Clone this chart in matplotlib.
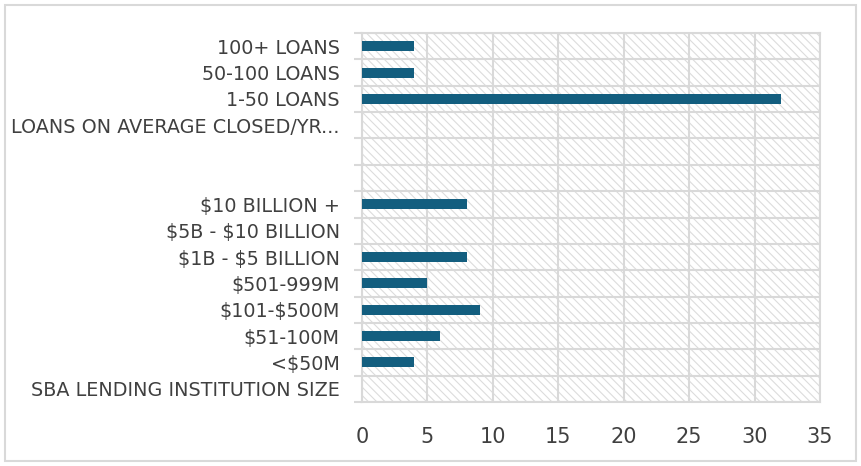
import numpy as np
import matplotlib.pyplot as plt
from matplotlib.patches import Rectangle

# categories from bottom to top
labels = ["SBA LENDING INSTITUTION SIZE", "<$50M", "$51-100M", "$101-$500M",
          "$501-999M", "$1B - $5 BILLION", "$5B - $10 BILLION", "$10 BILLION +",
          "", "", "LOANS ON AVERAGE CLOSED/YR...", "1-50 LOANS",
          "50-100 LOANS", "100+ LOANS"]
values = [0, 4, 6, 9, 5, 8, 0, 8, 0, 0, 0, 32, 4, 4]

grid_c = "#d9d9d9"
txt_c = "#404040"
bar_c = "#135e7f"

plt.rcParams['font.family'] = ['DejaVu Sans']
plt.rcParams['text.parse_math'] = False
plt.rcParams['hatch.linewidth'] = 0.8

fig = plt.figure(figsize=(8.61, 4.66), dpi=100)
fig.patches.append(Rectangle((0.006, 0.01), 0.988, 0.98, transform=fig.transFigure,
                             fill=False, edgecolor=grid_c, linewidth=1.5))
ax = fig.add_axes([0.4204, 0.1373, 0.532, 0.7917])

y = np.arange(len(labels))
ax.set_xlim(0, 35)
ax.set_ylim(-0.5, len(labels) - 0.5)

# hatched background
ax.add_patch(Rectangle((0, 0), 1, 1, transform=ax.transAxes, facecolor="white",
                       hatch="\\\\\\\\", edgecolor="#dcdcdc", linewidth=0, zorder=0))

ax.barh(y, values, height=0.38, color=bar_c, zorder=3)

ax.set_yticks(y)
ax.set_yticklabels(labels, fontsize=13.8, color=txt_c)
ax.set_yticks(np.arange(-0.5, len(labels)), minor=True)
ax.tick_params(axis="y", which="major", length=0, pad=16)
ax.tick_params(axis="y", which="minor", length=6, color=grid_c, width=1.5)
ax.set_xticks(np.arange(0, 36, 5))
ax.tick_params(axis="x", length=0, labelsize=15, labelcolor=txt_c, pad=18)

ax.grid(True, which="minor", axis="y", color=grid_c, linewidth=1.5, zorder=1)
ax.grid(True, which="major", axis="x", color=grid_c, linewidth=1.5, zorder=1)
for s in ax.spines.values():
    s.set_color(grid_c)
    s.set_linewidth(1.5)

plt.savefig("out.png", dpi=100)
